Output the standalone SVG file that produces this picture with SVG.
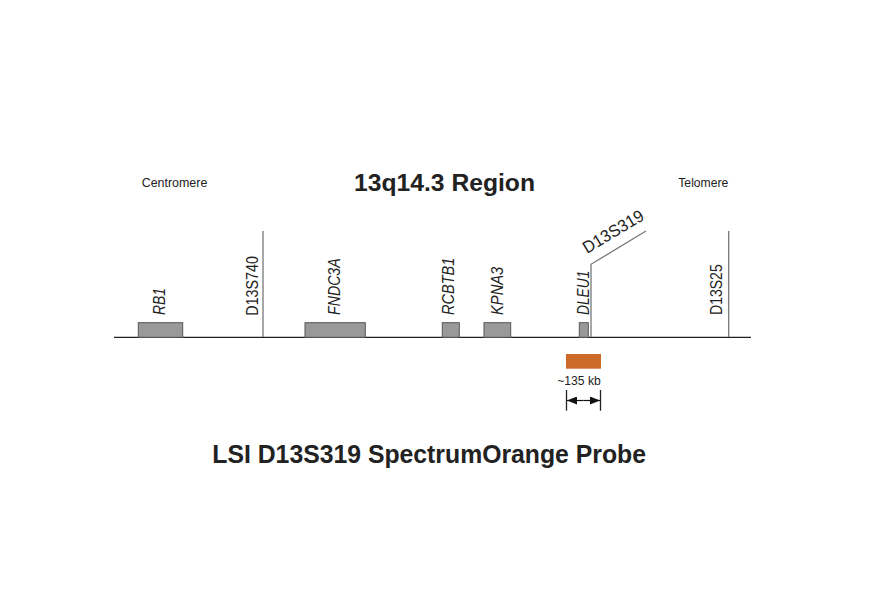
<svg xmlns="http://www.w3.org/2000/svg" width="892" height="595" viewBox="0 0 892 595">
<style>
text{font-family:"Liberation Sans",Arial,sans-serif;fill:#222}
.t{font-weight:bold}
.s{font-size:12px}
.g{font-size:17px}
.i{font-style:italic}
.gene{fill:#999;stroke:#555;stroke-width:1}
.mk{stroke:#777;stroke-width:1.3;fill:none}
.ax{stroke:#222;stroke-width:1.3;fill:none}
</style>
<defs>
<marker id="ah" viewBox="0 0 10 8" refX="10" refY="4" markerWidth="10" markerHeight="8" markerUnits="userSpaceOnUse" orient="auto">
<path d="M0,0 L10,4 L0,8 Z" fill="#111"/>
</marker>
</defs>
<rect width="892" height="595" fill="#fff"/>
<g id="titles">
<text class="t" x="354" y="190.5" font-size="24.5" textLength="181" lengthAdjust="spacingAndGlyphs">13q14.3 Region</text>
<text class="s" x="141.7" y="187" textLength="65.6" lengthAdjust="spacingAndGlyphs">Centromere</text>
<text class="s" x="678.3" y="187.3" textLength="50" lengthAdjust="spacingAndGlyphs">Telomere</text>
<text class="t" x="212.3" y="462.5" font-size="25" textLength="433.7" lengthAdjust="spacingAndGlyphs">LSI D13S319 SpectrumOrange Probe</text>
</g>
<g id="connectors">
<line class="ax" x1="114" y1="337.3" x2="751" y2="337.3"/>
<line class="mk" x1="263" y1="231" x2="263" y2="337"/>
<line class="mk" x1="728.7" y1="231" x2="728.7" y2="337"/>
<polyline class="mk" points="591,337 591,264.3 646,231"/>
</g>
<g id="gene-RB1">
<rect class="gene" x="138.3" y="322.7" width="44.4" height="14.6"/>
<text class="g i" transform="translate(165,315) rotate(-90)" textLength="27" lengthAdjust="spacingAndGlyphs">RB1</text>
</g>
<g id="marker-D13S740">
<text class="g" transform="translate(257.5,315.7) rotate(-90)" textLength="59.7" lengthAdjust="spacingAndGlyphs">D13S740</text>
</g>
<g id="gene-FNDC3A">
<rect class="gene" x="305" y="322.7" width="60.3" height="14.6"/>
<text class="g i" transform="translate(340,315) rotate(-90)" textLength="56.7" lengthAdjust="spacingAndGlyphs">FNDC3A</text>
</g>
<g id="gene-RCBTB1">
<rect class="gene" x="442.3" y="322.7" width="17" height="14.6"/>
<text class="g i" transform="translate(454.3,315) rotate(-90)" textLength="57.3" lengthAdjust="spacingAndGlyphs">RCBTB1</text>
</g>
<g id="gene-KPNA3">
<rect class="gene" x="484" y="322.7" width="26.7" height="14.6"/>
<text class="g i" transform="translate(503.3,315) rotate(-90)" textLength="48.3" lengthAdjust="spacingAndGlyphs">KPNA3</text>
</g>
<g id="gene-DLEU1">
<rect class="gene" x="579.3" y="322.7" width="9" height="14.6"/>
<text class="g i" transform="translate(588.5,315) rotate(-90)" textLength="44.3" lengthAdjust="spacingAndGlyphs">DLEU1</text>
</g>
<g id="marker-D13S319">
<text class="g" transform="translate(587,254) rotate(-31)" textLength="68" lengthAdjust="spacingAndGlyphs">D13S319</text>
</g>
<g id="marker-D13S25">
<text class="g" transform="translate(721.7,315) rotate(-90)" textLength="50.7" lengthAdjust="spacingAndGlyphs">D13S25</text>
</g>
<g id="probe">
<rect x="566" y="354" width="35" height="14.7" fill="#cd6a2a"/>
<text x="557.3" y="385" font-size="13" textLength="43.4" lengthAdjust="spacingAndGlyphs">~135 kb</text>
<line class="ax" x1="566.5" y1="390" x2="566.5" y2="410.7" stroke-width="1"/>
<line class="ax" x1="600.5" y1="390" x2="600.5" y2="410.7" stroke-width="1"/>
<line x1="583.5" y1="400.5" x2="567" y2="400.5" stroke="#111" stroke-width="1.2" marker-end="url(#ah)"/>
<line x1="583.5" y1="400.5" x2="600" y2="400.5" stroke="#111" stroke-width="1.2" marker-end="url(#ah)"/>
</g>
</svg>
